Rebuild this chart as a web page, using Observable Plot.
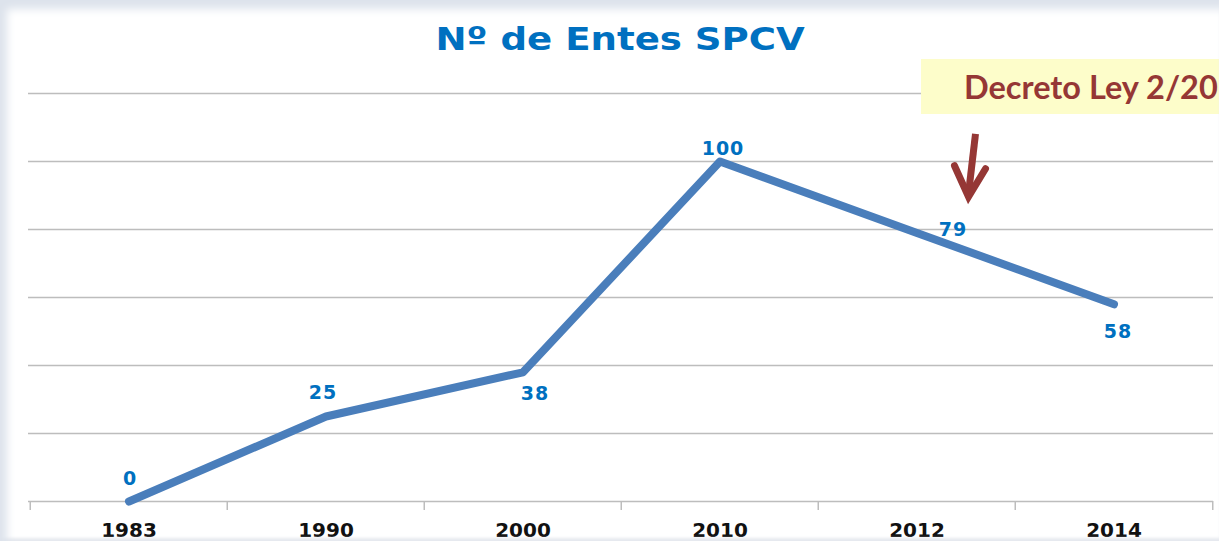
<!DOCTYPE html>
<html>
<head>
<meta charset="utf-8">
<script src="https://cdn.jsdelivr.net/npm/d3@7"></script>
<script src="https://cdn.jsdelivr.net/npm/@observablehq/plot@0.6"></script>
<style>
html, body { margin: 0; padding: 0; background: #fff; overflow: hidden; }
#wrap { position: relative; width: 1219px; height: 541px; overflow: hidden; background: #fff; }
#chart { position: absolute; left: 0; top: 0; }
#shade { position: absolute; left: 0; top: 0; width: 1219px; height: 541px; pointer-events: none; z-index: 10;
  box-shadow: inset 10px 12px 9px -3px #dde3ec, inset 0 -4px 3px -1px #e6e9ef; }
#title { position: absolute; left: 0; width: 1240px; top: 23px; text-align: center; line-height: 1;
  font-family: "DejaVu Sans", Verdana, sans-serif; font-weight: bold; font-size: 32px; color: #0070c0; }
#title span { display: inline-block; transform: scaleX(1.16); transform-origin: center; }
#note { position: absolute; left: 921px; top: 59px; width: 298px; height: 55px; background: #fdfdca; z-index: 3;
  font-family: Lato, "Open Sans", sans-serif; font-weight: bold; font-size: 32.5px; line-height: 55px; color: #953735;
  padding-left: 43px; box-sizing: border-box; white-space: nowrap; }
#arrow { position: absolute; left: 0; top: 0; z-index: 4; pointer-events: none; }
#chart g[aria-label="text"] text { letter-spacing: 1px; }
</style>
</head>
<body>
<div id="wrap">
  <div id="chart"></div>
  <div id="title"><span>Nº de Entes SPCV</span></div>
  <div id="note">Decreto Ley 2/20</div>
  <svg id="arrow" width="1219" height="541"></svg>
  <div id="shade"></div>
</div>
<script>
// ---- data ----
const categories = ["1983", "1990", "2000", "2010", "2012", "2014"];
const values = [0, 25, 38, 100, 79, 58];
const yTicks = [0, 20, 40, 60, 80, 100, 120];

// ---- layout / style ----
const W = 1219, H = 541, mL = 28, mR = 6, mT = 93, mB = 40;
const bw = (W - mL - mR) / categories.length;
const labelOffset = {
  "1983": [1, -23], "1990": [-3, -24], "2000": [12, 22],
  "2010": [3, -13], "2012": [36, -3], "2014": [4, 28]
};
const data = categories.map((c, i) => ({year: c, value: values[i]}));
const gridColor = "#bdbdbd";

const chart = Plot.plot({
  width: W, height: H,
  marginLeft: mL, marginRight: mR, marginTop: mT, marginBottom: mB,
  style: {fontFamily: "'DejaVu Sans', Verdana, sans-serif", background: "transparent", overflow: "visible"},
  x: {type: "band", domain: categories, padding: 0, axis: null},
  y: {domain: [0, 120], axis: null},
  marks: [
    Plot.ruleY(yTicks, {stroke: gridColor, strokeWidth: 1.5}),
    Plot.ruleX(categories, {x: d => d, dx: -bw / 2, insetTop: H - mT - mB, insetBottom: -9, stroke: gridColor, strokeWidth: 1.5}),
    Plot.ruleX([categories[categories.length - 1]], {x: d => d, dx: bw / 2, insetTop: H - mT - mB, insetBottom: -9, stroke: gridColor, strokeWidth: 1.5}),
    Plot.axisX({tickSize: 0, tickPadding: 21, fontSize: 20, fontWeight: "bold", fill: "#111", label: null}),
    Plot.line(data, {x: "year", y: "value", stroke: "#4a7ebb", strokeWidth: 8, strokeLinecap: "round", strokeLinejoin: "round"}),
    ...categories.map(c => Plot.text(data.filter(d => d.year === c), {
      x: "year", y: "value", text: d => String(d.value),
      dx: labelOffset[c][0], dy: labelOffset[c][1],
      fill: "#0070c0", fontSize: 19, fontWeight: "bold"
    }))
  ]
});
document.getElementById("chart").appendChild(chart);

// ---- annotation arrow, placed from the chart's scales ----
const xs = chart.scale("x"), ys = chart.scale("y");
const ax = xs.apply("2012") + xs.bandwidth / 2 + 55;
const yTop = ys.apply(108), yTip = ys.apply(89.5);
const a = d3.select("#arrow");
a.append("path")
  .attr("d", `M${ax + 4},${yTop} L${ax - 3},${yTip - 3}`)
  .attr("stroke", "#953735").attr("stroke-width", 7).attr("fill", "none");
a.append("path")
  .attr("d", `M${ax - 17},${yTip - 31} L${ax - 3},${yTip} L${ax + 14},${yTip - 28}`)
  .attr("stroke", "#953735").attr("stroke-width", 7).attr("fill", "none")
  .attr("stroke-linejoin", "miter").attr("stroke-linecap", "round");
</script>
</body>
</html>
